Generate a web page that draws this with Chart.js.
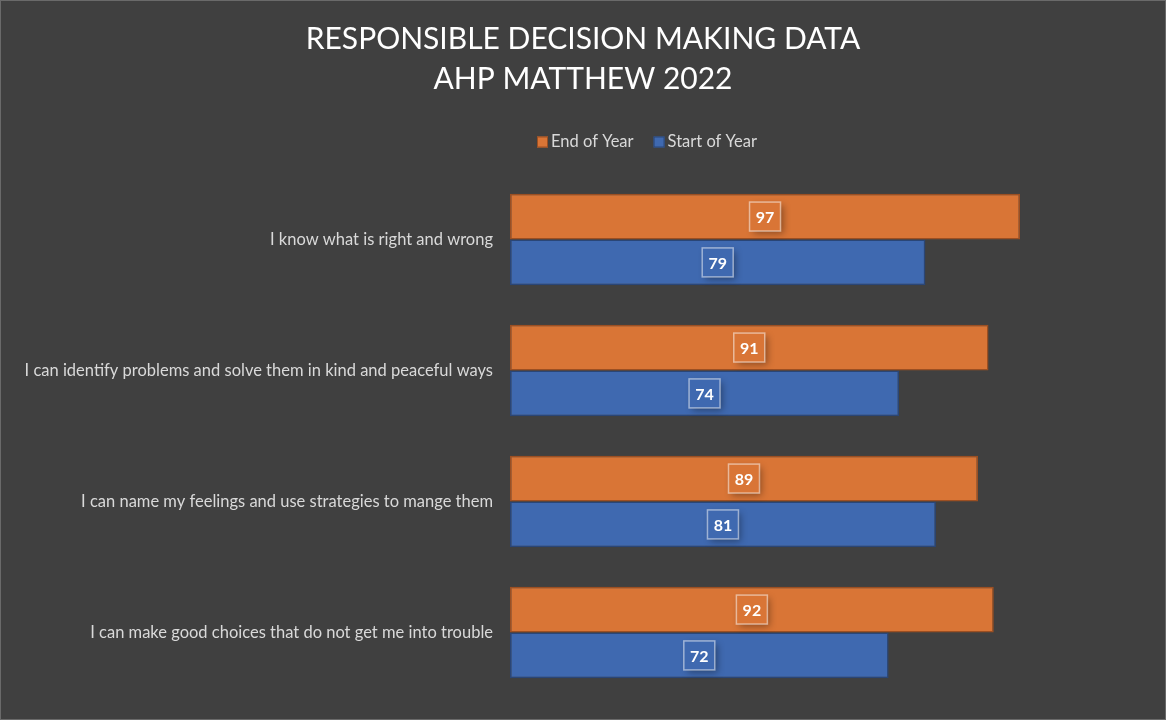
<!DOCTYPE html>
<html>
<head>
<meta charset="utf-8">
<script src="https://cdn.jsdelivr.net/npm/chart.js@4"></script>
<style>
  html, body { margin: 0; padding: 0; background: #404040; }
  #wrap { width: 1166px; height: 720px; box-sizing: border-box; border: 1px solid #6a6a6a; position: relative; }
</style>
</head>
<body>
<div id="wrap"><canvas id="sdmChart"></canvas></div>
<script>
// Responsible decision making data
const categories = [
    'I know what is right and wrong',
    'I can identify problems and solve them in kind and peaceful ways',
    'I can name my feelings and use strategies to mange them',
    'I can make good choices that do not get me into trouble'
];
const endOfYear = [97, 91, 89, 92];
const startOfYear = [79, 74, 81, 72];
const titleLines = ['RESPONSIBLE DECISION MAKING DATA', 'AHP MATTHEW 2022'];

const FONT = 'Lato, "Open Sans", sans-serif';

// value boxes in the middle of each bar
const valueBoxes = {
    id: 'valueBoxes',
    afterDatasetsDraw(chart) {
        const ctx = chart.ctx;
        chart.data.datasets.forEach((ds, i) => {
            chart.getDatasetMeta(i).data.forEach((bar, j) => {
                const cx = (bar.base + bar.x) / 2;
                const cy = bar.y;
                const w = 31, h = 29;
                ctx.save();
                ctx.shadowColor = 'rgba(0,0,0,0.35)';
                ctx.shadowBlur = 7;
                ctx.shadowOffsetX = 3;
                ctx.shadowOffsetY = 3;
                ctx.fillStyle = ds.backgroundColor;
                ctx.fillRect(cx - w / 2, cy - h / 2, w, h);
                ctx.restore();
                ctx.save();
                ctx.strokeStyle = 'rgba(255,255,255,0.5)';
                ctx.lineWidth = 1.5;
                ctx.strokeRect(cx - w / 2, cy - h / 2, w, h);
                ctx.fillStyle = '#ffffff';
                ctx.font = 'bold 16px ' + FONT;
                ctx.textAlign = 'center';
                ctx.textBaseline = 'middle';
                ctx.fillText(ds.data[j], cx, cy + 1);
                ctx.restore();
            });
        });
    }
};

// legend placed like the original (not centred)
const sideLegend = {
    id: 'sideLegend',
    afterDraw(chart) {
        const ctx = chart.ctx;
        let x = 536;
        const y = 141;
        ctx.save();
        ctx.font = '16.5px ' + FONT;
        ctx.textBaseline = 'middle';
        chart.data.datasets.forEach(ds => {
            ctx.fillStyle = ds.backgroundColor;
            ctx.fillRect(x, y - 5.5, 11, 11);
            ctx.strokeStyle = ds.borderColor;
            ctx.lineWidth = 1;
            ctx.strokeRect(x + 0.5, y - 5, 10, 10);
            ctx.fillStyle = '#d9d9d9';
            ctx.fillText(ds.label, x + 14, y);
            x += 14 + ctx.measureText(ds.label).width + 20;
        });
        ctx.restore();
    }
};

const ctx1 = document.getElementById('sdmChart').getContext('2d');
const sdmChart = new Chart(ctx1, {
    type: 'bar',
    data: {
        labels: categories,
        datasets: [{
            label: 'End of Year',
            data: endOfYear,
            backgroundColor: '#d97536',
            borderColor: '#9c4f22',
            borderWidth: 1.5,
            borderSkipped: false
        }, {
            label: 'Start of Year',
            data: startOfYear,
            backgroundColor: '#3f69b0',
            borderColor: '#2a4677',
            borderWidth: 1.5,
            borderSkipped: false
        }]
    },
    options: {
        indexAxis: 'y',
        responsive: true,
        maintainAspectRatio: false,
        animation: false,
        categoryPercentage: 0.7,
        barPercentage: 1.0,
        layout: { padding: { left: 24, right: 24, bottom: 21, top: 0 } },
        plugins: {
            legend: { display: false },
            tooltip: { enabled: false },
            title: {
                display: true,
                text: titleLines,
                color: '#ffffff',
                font: { family: FONT, size: 30, weight: 'normal', lineHeight: 1.333 },
                padding: { top: 18, bottom: 75 }
            }
        },
        scales: {
            x: {
                display: false,
                min: 0,
                max: 120
            },
            y: {
                grid: { display: false, drawTicks: false },
                border: { display: false },
                ticks: {
                    color: '#d9d9d9',
                    font: { family: FONT, size: 16.5 },
                    padding: 17,
                    autoSkip: false
                },
                afterFit(scale) {
                    scale.width = 485;
                    scale.paddingTop = 0;
                    scale.paddingBottom = 0;
                }
            }
        }
    },
    plugins: [valueBoxes, sideLegend]
});
</script>
</body>
</html>
